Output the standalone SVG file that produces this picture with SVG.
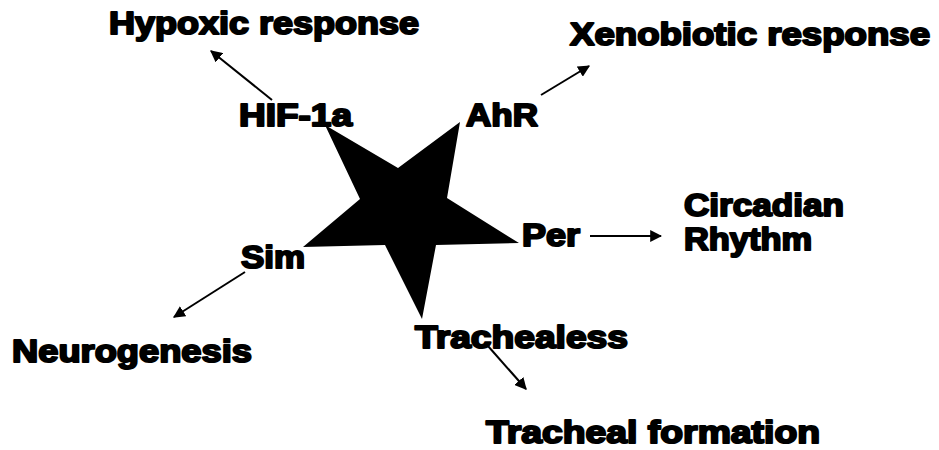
<svg xmlns="http://www.w3.org/2000/svg" width="939" height="450" viewBox="0 0 939 450">
<style>
text{font-family:"Liberation Sans",Arial,sans-serif;font-weight:bold;font-size:31px;fill:#000;stroke:#000;stroke-width:2;stroke-linejoin:round}
.c{stroke:#000;stroke-width:2;fill:none;marker-end:url(#ah)}
</style>
<defs>
<marker id="ah" viewBox="0 0 10 10" refX="9" refY="5" markerWidth="6" markerHeight="6" orient="auto" markerUnits="strokeWidth">
<path d="M0,0 L10,5 L0,10 z" fill="#000"/>
</marker>
</defs>
<rect width="939" height="450" fill="#fff"/>
<g id="star"><polygon points="325,125 398,168 460,122 447,198 519,243 436,245 422,319 385,245 303,247 360,199" fill="#000"/></g>
<g id="connectors">
<line class="c" x1="272" y1="100" x2="211" y2="51"/>
<line class="c" x1="541" y1="95" x2="589" y2="66"/>
<line class="c" x1="590" y1="236" x2="661" y2="236"/>
<line class="c" x1="245" y1="272" x2="174" y2="317"/>
<line class="c" x1="488" y1="346" x2="526" y2="389"/>
</g>
<g id="hif"><text x="239" y="126" textLength="113" lengthAdjust="spacingAndGlyphs">HIF-1a</text></g>
<g id="ahr"><text x="466" y="126" textLength="72" lengthAdjust="spacingAndGlyphs">AhR</text></g>
<g id="per"><text x="522" y="246" textLength="58" lengthAdjust="spacingAndGlyphs">Per</text></g>
<g id="sim"><text x="241" y="268" textLength="64" lengthAdjust="spacingAndGlyphs">Sim</text></g>
<g id="trachealess"><text x="415" y="348" textLength="213" lengthAdjust="spacingAndGlyphs">Trachealess</text></g>
<g id="hypoxic"><text x="109" y="34" textLength="310" lengthAdjust="spacingAndGlyphs">Hypoxic response</text></g>
<g id="xeno"><text x="570" y="45" textLength="360" lengthAdjust="spacingAndGlyphs">Xenobiotic response</text></g>
<g id="circadian"><text x="684" y="216" textLength="160" lengthAdjust="spacingAndGlyphs">Circadian</text><text x="684" y="250" textLength="128" lengthAdjust="spacingAndGlyphs">Rhythm</text></g>
<g id="neuro"><text x="12" y="362" textLength="240" lengthAdjust="spacingAndGlyphs">Neurogenesis</text></g>
<g id="tracheal"><text x="486" y="443" textLength="334" lengthAdjust="spacingAndGlyphs">Tracheal formation</text></g>
</svg>
